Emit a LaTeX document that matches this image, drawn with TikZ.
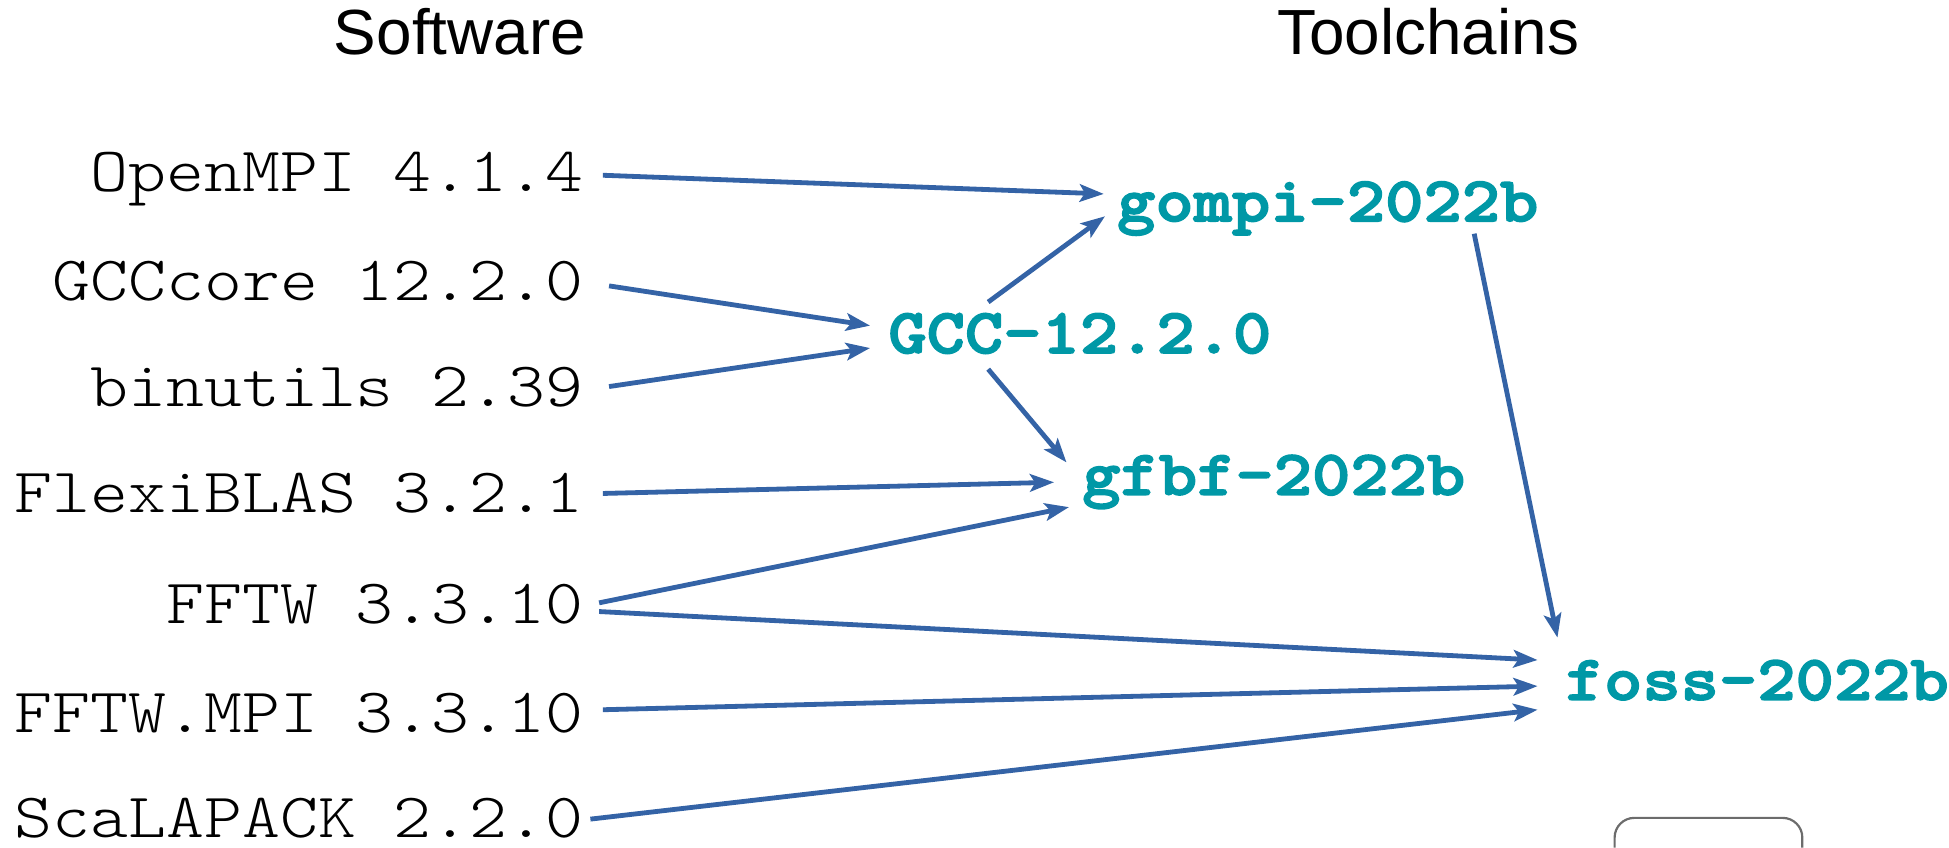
\documentclass[tikz,border=0pt]{standalone}
\usepackage{fontspec}
\usetikzlibrary{arrows.meta}
\newfontfamily\swfont[FakeStretch=1.143]{lmmonolt10-regular.otf}
\newfontfamily\tcfont[FakeStretch=1.143,FakeBold=2.5]{lmmonolt10-bold.otf}
\newfontfamily\hdfont{Liberation Sans}
\definecolor{tcteal}{RGB}{0,152,166}
\definecolor{deparrow}{RGB}{52,99,166}

\begin{document}
\begin{tikzpicture}[x=0.01cm,y=-0.01cm]
\tikzstyle{every node}+=[inner sep=0pt]
\tikzstyle{head}=[font=\hdfont\fontsize{14.6}{17}\selectfont, anchor=base]
\tikzstyle{sw}=[font=\swfont\fontsize{14.45}{17}\selectfont, anchor=base east]
\tikzstyle{tc}=[font=\tcfont\fontsize{14.6}{17}\selectfont, text=tcteal, anchor=base west]
\tikzstyle{dep}=[draw=deparrow, line width=1.1pt, -{Stealth[length=5.5pt,width=4pt,inset=1.2pt]}]
\useasboundingbox (0,0) rectangle (1568,682);
\node [head] (software) at (370,44) {Software};
\node [head] (toolchains) at (1149,44) {Toolchains};
\node [sw] (ompi) at (470,154) {OpenMPI 4.1.4};
\node [sw] (gcccore) at (470,242) {GCCcore 12.2.0};
\node [sw] (binutils) at (470,327) {binutils 2.39};
\node [sw] (flexi) at (470,412) {FlexiBLAS 3.2.1};
\node [sw] (fftw) at (470,502) {FFTW 3.3.10};
\node [sw] (fftwmpi) at (470,589) {FFTW.MPI 3.3.10};
\node [sw] (scalapack) at (470,674) {ScaLAPACK 2.2.0};
\node [tc] (gompi) at (898,178) {gompi-2022b};
\node [tc] (gcc) at (714,284) {GCC-12.2.0};
\node [tc] (gfbf) at (870,398) {gfbf-2022b};
\node [tc] (foss) at (1259,563) {foss-2022b};
\draw [dep] ([shift={(15,-13)}]ompi.base east) -- ([shift={(-10,-22)}]gompi.base west);
\draw [dep] ([shift={(20,-12)}]gcccore.base east) -- ([shift={(-14,-22)}]gcc.base west);
\draw [dep] ([shift={(20,-16)}]binutils.base east) -- ([shift={(-14,-4)}]gcc.base west);
\draw [dep] ([shift={(81,-41)}]gcc.base west) -- ([shift={(-9,-4)}]gompi.base west);
\draw [dep] ([shift={(81,13)}]gcc.base west) -- ([shift={(-12,-26)}]gfbf.base west);
\draw [dep] ([shift={(15,-15)}]flexi.base east) -- ([shift={(-22,-10)}]gfbf.base west);
\draw [dep] ([shift={(12,-17)}]fftw.base east) -- ([shift={(-10,10)}]gfbf.base west);
\draw [dep] ([shift={(12,-10)}]fftw.base east) -- ([shift={(-22,-32)}]foss.base west);
\draw [dep] ([shift={(15,-18)}]fftwmpi.base east) -- ([shift={(-22,-11)}]foss.base west);
\draw [dep] ([shift={(5,-15)}]scalapack.base east) -- ([shift={(-22,8)}]foss.base west);
\draw [dep] ([shift={(288,10)}]gompi.base west) -- ([shift={(-6,-50)}]foss.base west);
\draw [gray!85!black, line width=0.5pt, rounded corners=4.5pt] (1299,682) |- (1450,658) -- (1450,682);
\end{tikzpicture}
\end{document}
